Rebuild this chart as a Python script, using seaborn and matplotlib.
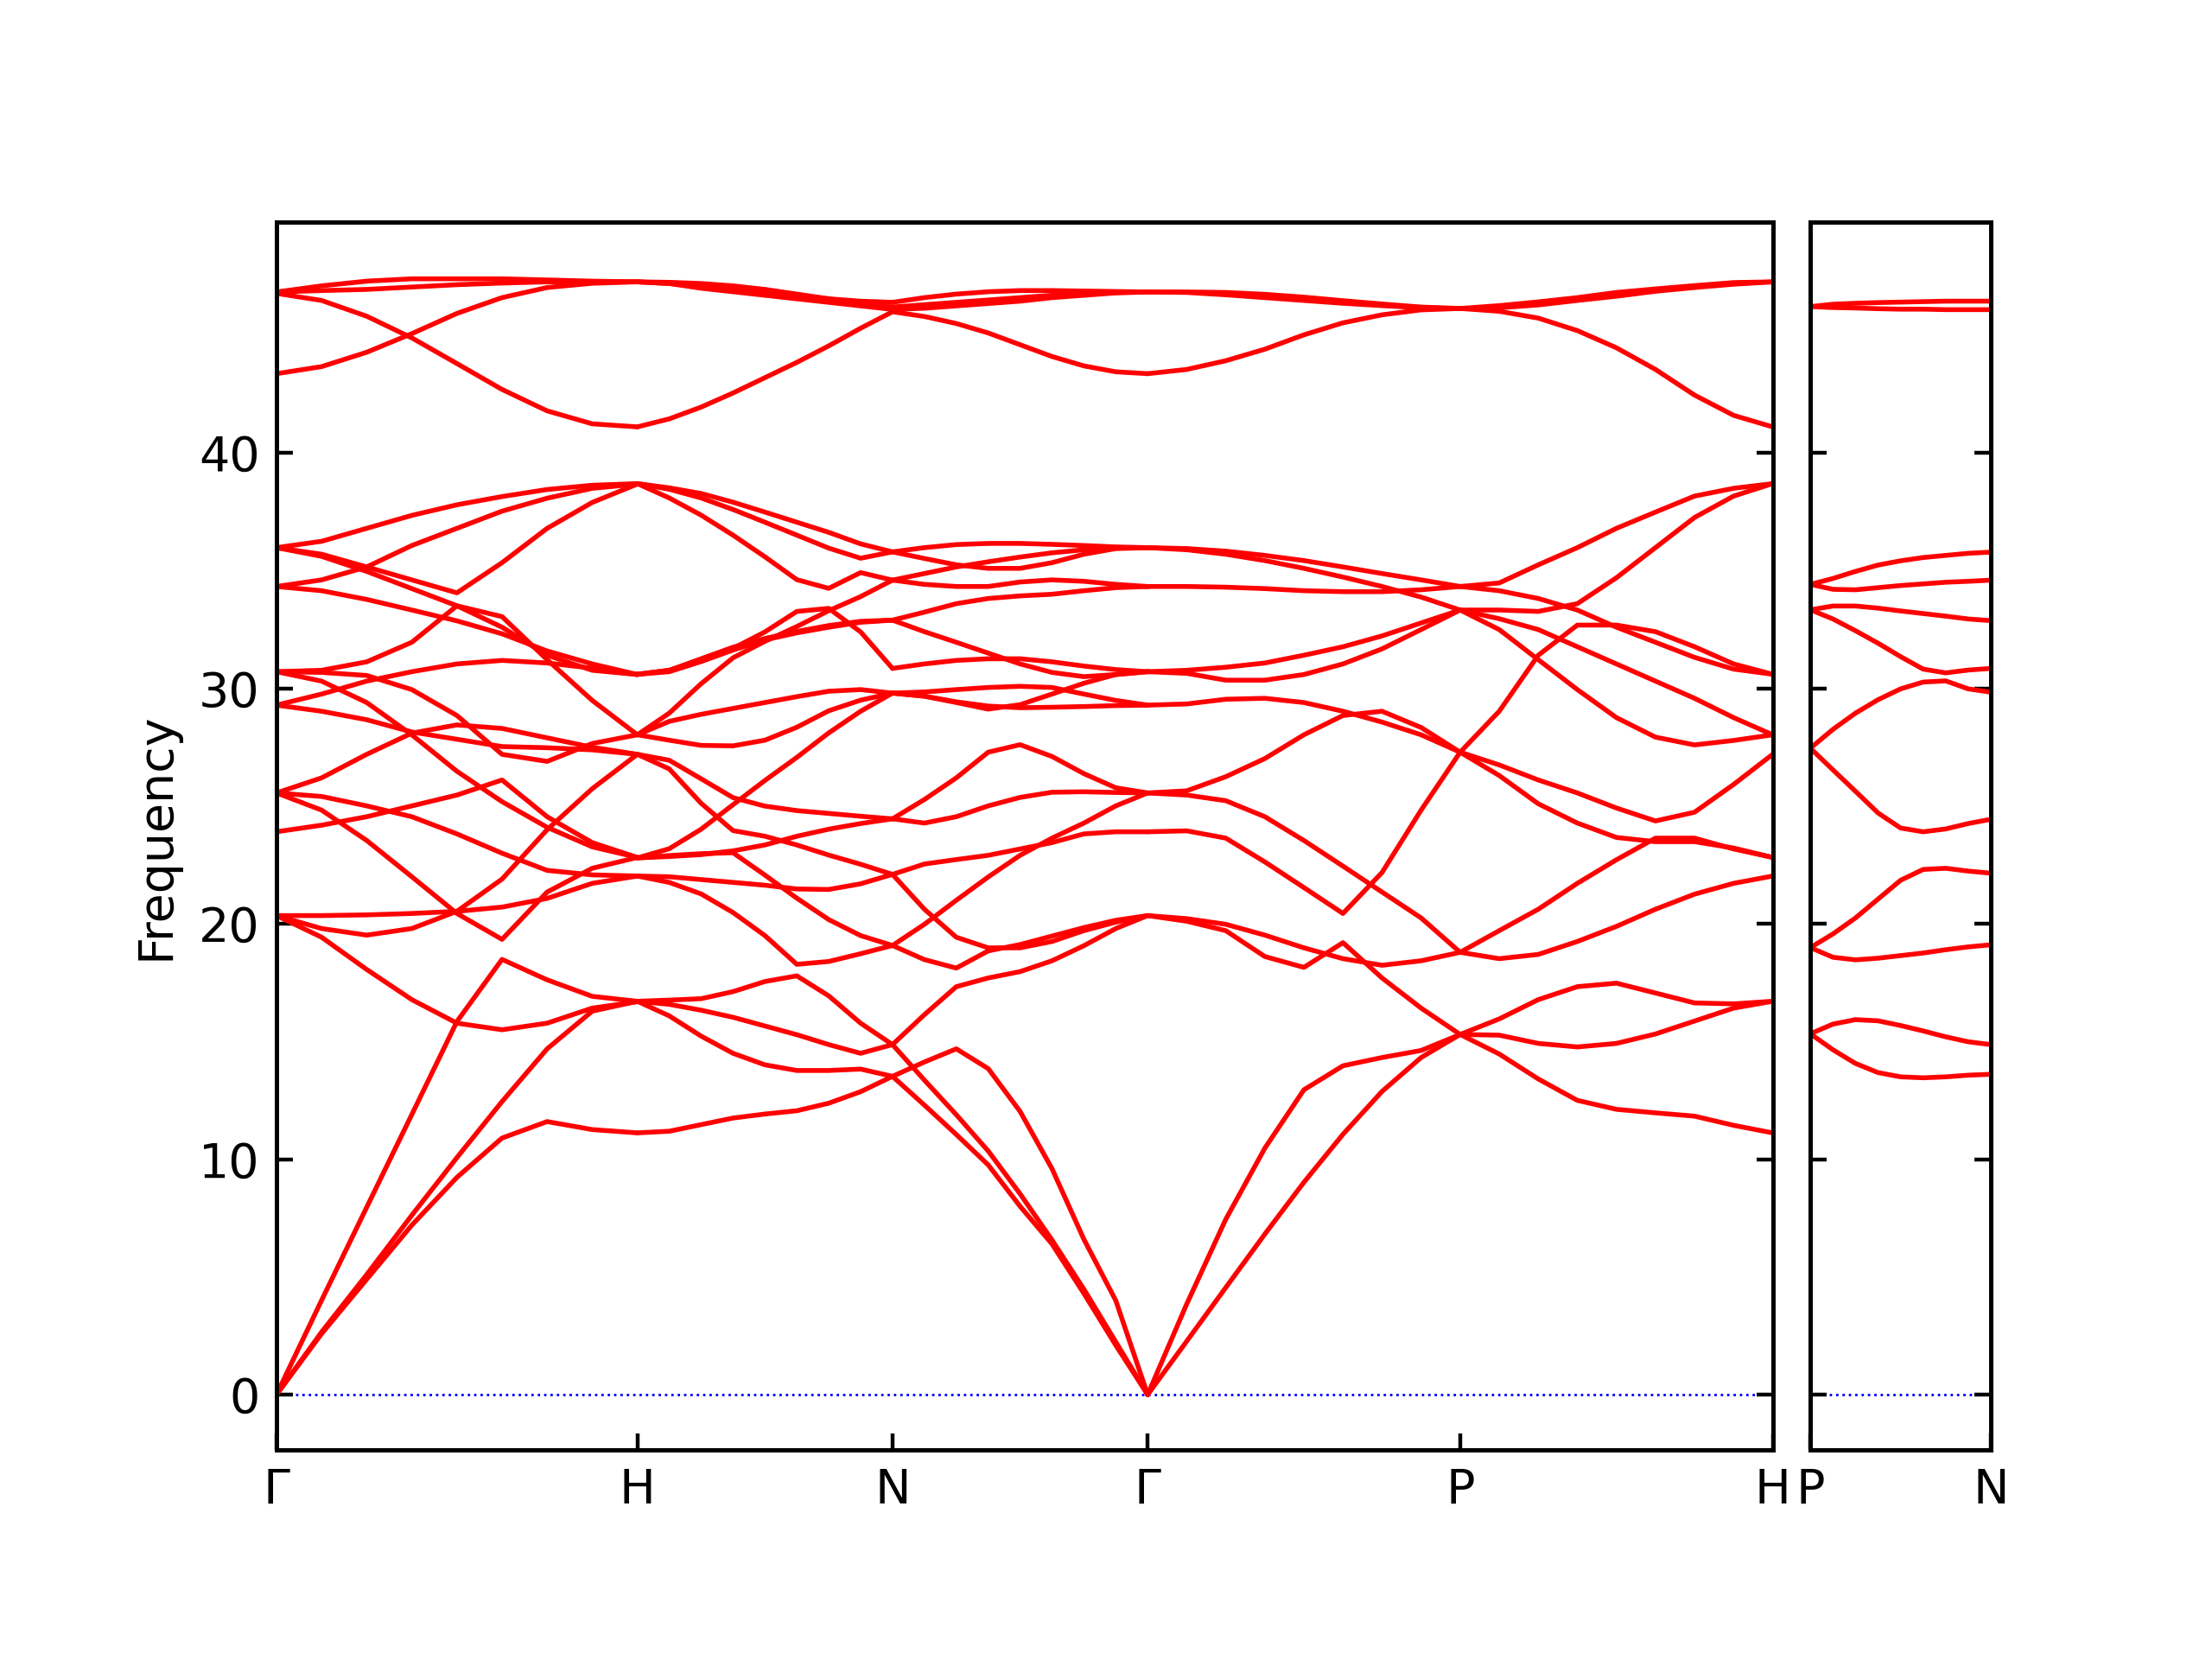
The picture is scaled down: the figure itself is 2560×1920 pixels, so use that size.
import numpy as np
import pandas as pd
import matplotlib
matplotlib.use("Agg")
import matplotlib.pyplot as plt
import seaborn as sns

# high symmetry path (bcc), segment lengths in 2pi/a
main_nodes = ["Γ", "H", "N", "Γ", "P", "H"]
seg_lengths = [1.0, 0.7071, 0.7071, 0.8660, 0.8660]
side_nodes = ["P", "N"]
side_length = 0.5

# fractional k position of the read-off samples along each segment
k_frac = [0.0, 0.125, 0.25, 0.375, 0.5, 0.625, 0.75, 0.875, 1.0]

# frequencies, one list per branch
gamma_h = [
    [46.84, 47.10, 47.30, 47.40, 47.40, 47.40, 47.35, 47.30, 47.27],
    [46.84, 46.90, 46.95, 47.05, 47.15, 47.22, 47.27, 47.27, 47.27],
    [46.78, 46.48, 45.81, 44.89, 43.80, 42.70, 41.79, 41.24, 41.11],
    [43.37, 43.67, 44.28, 45.07, 45.93, 46.60, 47.03, 47.21, 47.27],
    [35.98, 36.25, 36.80, 37.35, 37.80, 38.15, 38.45, 38.63, 38.70],
    [34.33, 34.61, 35.16, 36.07, 36.80, 37.53, 38.08, 38.50, 38.68],
    [35.98, 35.70, 35.16, 34.61, 34.06, 35.34, 36.80, 37.90, 38.68],
    [35.98, 35.61, 34.97, 34.24, 33.51, 32.60, 31.41, 30.77, 30.59],
    [34.33, 34.15, 33.78, 33.33, 32.87, 32.32, 31.59, 31.04, 30.59],
    [30.71, 30.77, 31.13, 31.96, 33.51, 33.05, 31.22, 29.49, 28.03],
    [30.71, 30.68, 30.55, 29.95, 28.85, 27.20, 26.90, 27.66, 28.03],
    [29.29, 29.76, 30.31, 30.71, 31.04, 31.19, 31.08, 30.86, 30.59],
    [29.29, 29.03, 28.67, 28.15, 27.84, 27.53, 27.48, 27.39, 27.20],
    [30.71, 30.31, 29.40, 28.03, 26.48, 25.19, 24.10, 23.27, 22.82],
    [25.56, 26.20, 27.20, 28.10, 28.45, 28.30, 27.90, 27.50, 27.20],
    [25.56, 25.41, 25.01, 24.55, 23.82, 23.00, 22.27, 22.08, 22.03],
    [25.56, 24.83, 23.54, 22.00, 20.44, 19.34, 21.35, 22.36, 22.82],
    [23.91, 24.19, 24.55, 25.01, 25.47, 26.11, 24.55, 23.45, 22.82],
    [20.35, 20.35, 20.38, 20.44, 20.53, 20.71, 21.08, 21.72, 22.03],
    [20.35, 19.80, 19.52, 19.80, 20.53, 21.90, 24.00, 25.74, 27.20],
    [20.35, 19.43, 18.06, 16.78, 15.78, 15.50, 15.78, 16.42, 16.69],
    [0.0, 4.01, 7.96, 11.90, 15.85, 18.49, 17.62, 16.92, 16.71],
    [0.0, 2.66, 5.10, 7.62, 10.07, 12.45, 14.69, 16.29, 16.71],
    [0.0, 2.59, 4.90, 7.20, 9.23, 10.90, 11.60, 11.26, 11.12],
]

h_n = [
    [47.27, 47.20, 47.10, 46.95, 46.85, 46.70, 46.55, 46.45, 46.40],
    [47.27, 47.25, 47.20, 47.10, 46.95, 46.75, 46.55, 46.35, 46.20],
    [47.27, 47.20, 47.00, 46.85, 46.70, 46.55, 46.40, 46.25, 46.10],
    [41.11, 41.45, 41.95, 42.55, 43.20, 43.85, 44.55, 45.30, 46.00],
    [38.70, 38.52, 38.28, 37.91, 37.49, 37.06, 36.63, 36.14, 35.80],
    [38.70, 38.46, 38.09, 37.60, 37.06, 36.51, 35.96, 35.53, 35.80],
    [38.70, 38.09, 37.36, 36.51, 35.59, 34.62, 34.25, 34.92, 34.60],
    [30.60, 30.77, 31.20, 31.70, 32.40, 33.27, 33.40, 32.40, 30.85],
    [28.03, 28.95, 30.20, 31.30, 32.00, 32.63, 33.30, 33.90, 34.60],
    [30.60, 30.77, 31.26, 31.75, 32.12, 32.42, 32.67, 32.85, 32.90],
    [30.60, 30.71, 31.14, 31.63, 32.06, 32.36, 32.60, 32.81, 32.90],
    [28.03, 28.60, 28.90, 29.15, 29.40, 29.65, 29.88, 29.95, 29.80],
    [28.03, 27.80, 27.58, 27.56, 27.80, 28.35, 29.05, 29.50, 29.80],
    [27.20, 26.95, 26.16, 25.36, 25.00, 24.81, 24.69, 24.57, 24.46],
    [27.20, 26.58, 25.12, 23.96, 23.72, 23.35, 22.92, 22.53, 22.10],
    [22.80, 23.19, 24.02, 25.06, 26.09, 27.07, 28.11, 29.03, 29.80],
    [22.80, 22.86, 22.94, 23.10, 23.35, 23.72, 24.02, 24.26, 24.46],
    [22.80, 22.90, 22.98, 23.02, 22.07, 21.09, 20.18, 19.50, 19.08],
    [22.03, 21.76, 21.27, 20.48, 19.50, 18.28, 18.40, 18.73, 19.08],
    [22.03, 22.00, 21.88, 21.76, 21.64, 21.48, 21.46, 21.70, 22.10],
    [16.71, 16.76, 16.82, 17.12, 17.55, 17.79, 16.94, 15.78, 14.87],
    [16.71, 16.58, 16.33, 16.03, 15.66, 15.29, 14.87, 14.50, 14.87],
    [16.71, 16.09, 15.23, 14.50, 14.01, 13.77, 13.77, 13.83, 13.52],
    [11.12, 11.19, 11.47, 11.75, 11.92, 12.06, 12.38, 12.87, 13.52],
]

n_gamma = [
    [46.40, 46.60, 46.75, 46.85, 46.90, 46.90, 46.88, 46.86, 46.84],
    [46.20, 46.30, 46.40, 46.50, 46.60, 46.70, 46.78, 46.82, 46.84],
    [46.10, 46.15, 46.25, 46.35, 46.45, 46.60, 46.70, 46.80, 46.84],
    [46.00, 45.80, 45.50, 45.10, 44.60, 44.10, 43.70, 43.45, 43.37],
    [35.80, 35.98, 36.11, 36.16, 36.16, 36.12, 36.07, 36.01, 35.98],
    [35.80, 35.52, 35.25, 35.10, 35.10, 35.34, 35.70, 35.94, 35.98],
    [34.60, 34.88, 35.16, 35.38, 35.58, 35.76, 35.89, 35.96, 35.98],
    [34.60, 34.42, 34.33, 34.33, 34.52, 34.61, 34.55, 34.42, 34.33],
    [32.90, 33.24, 33.60, 33.82, 33.93, 34.00, 34.15, 34.28, 34.33],
    [32.90, 32.41, 31.96, 31.50, 31.04, 30.68, 30.50, 30.59, 30.71],
    [30.85, 31.04, 31.19, 31.26, 31.26, 31.13, 30.95, 30.80, 30.71],
    [29.80, 29.67, 29.40, 29.12, 29.31, 29.76, 30.22, 30.59, 30.71],
    [29.80, 29.67, 29.43, 29.25, 29.18, 29.20, 29.23, 29.27, 29.29],
    [29.80, 29.85, 29.95, 30.04, 30.09, 30.04, 29.76, 29.49, 29.29],
    [24.46, 25.28, 26.20, 27.29, 27.61, 27.11, 26.38, 25.78, 25.56],
    [24.46, 24.28, 24.55, 25.01, 25.37, 25.59, 25.61, 25.58, 25.56],
    [22.10, 22.54, 22.73, 22.91, 23.18, 23.45, 23.82, 23.91, 23.91],
    [22.10, 20.62, 19.43, 18.98, 18.98, 19.25, 19.71, 20.07, 20.35],
    [19.08, 19.98, 21.00, 21.99, 22.91, 23.64, 24.28, 25.01, 25.56],
    [19.08, 18.48, 18.12, 18.85, 19.12, 19.48, 19.84, 20.15, 20.35],
    [14.87, 16.14, 17.33, 17.70, 17.97, 18.43, 19.07, 19.80, 20.35],
    [13.52, 14.13, 14.69, 13.85, 12.03, 9.60, 6.60, 4.00, 0.0],
    [14.87, 13.36, 11.89, 10.35, 8.53, 6.57, 4.48, 2.24, 0.0],
    [13.52, 12.30, 11.05, 9.76, 8.00, 6.40, 4.30, 2.10, 0.0],
]

gamma_p = [
    [46.84, 46.82, 46.72, 46.60, 46.48, 46.36, 46.26, 46.17, 46.14],
    [46.84, 46.84, 46.82, 46.74, 46.62, 46.47, 46.33, 46.20, 46.14],
    [43.37, 43.55, 43.92, 44.41, 45.02, 45.53, 45.87, 46.08, 46.14],
    [35.98, 35.94, 35.83, 35.65, 35.43, 35.16, 34.88, 34.61, 34.33],
    [35.98, 35.89, 35.70, 35.43, 35.10, 34.73, 34.33, 33.88, 33.33],
    [34.33, 34.33, 34.30, 34.24, 34.15, 34.11, 34.11, 34.19, 34.33],
    [30.71, 30.77, 30.90, 31.08, 31.41, 31.77, 32.23, 32.78, 33.33],
    [30.71, 30.64, 30.35, 30.35, 30.59, 31.04, 31.68, 32.50, 33.33],
    [29.29, 29.34, 29.54, 29.58, 29.40, 29.03, 28.57, 28.03, 27.29],
    [25.56, 25.65, 26.25, 27.02, 28.03, 28.85, 29.03, 28.34, 27.29],
    [25.56, 25.47, 25.23, 24.55, 23.54, 22.45, 21.35, 20.25, 18.79],
    [23.91, 23.95, 23.64, 22.63, 21.54, 20.44, 22.18, 24.83, 27.29],
    [20.35, 20.11, 19.71, 18.61, 18.15, 19.20, 17.70, 16.42, 15.30],
    [20.35, 20.22, 19.98, 19.52, 18.98, 18.52, 18.24, 18.43, 18.79],
    [0.0, 3.85, 7.45, 10.47, 12.95, 13.97, 14.32, 14.62, 15.30],
    [0.0, 2.27, 4.55, 6.82, 9.02, 11.06, 12.88, 14.32, 15.30],
]

p_h = [
    [46.14, 46.26, 46.42, 46.60, 46.82, 46.97, 47.11, 47.24, 47.27],
    [46.14, 46.17, 46.29, 46.48, 46.66, 46.87, 47.03, 47.17, 47.27],
    [46.14, 46.02, 45.73, 45.20, 44.47, 43.55, 42.46, 41.60, 41.11],
    [34.33, 34.48, 35.25, 35.98, 36.80, 37.49, 38.17, 38.50, 38.70],
    [33.33, 33.33, 33.27, 33.60, 34.70, 35.98, 37.26, 38.17, 38.70],
    [27.29, 29.03, 31.41, 32.69, 32.69, 32.41, 31.77, 31.04, 30.60],
    [34.33, 34.15, 33.82, 33.33, 32.60, 31.96, 31.32, 30.82, 30.60],
    [33.33, 32.50, 31.22, 29.95, 28.76, 27.93, 27.60, 27.79, 28.03],
    [33.33, 32.96, 32.50, 31.77, 31.04, 30.31, 29.58, 28.76, 28.03],
    [27.29, 26.30, 25.10, 24.28, 23.67, 23.49, 23.49, 23.22, 22.82],
    [27.29, 26.75, 26.11, 25.56, 24.92, 24.37, 24.74, 25.92, 27.20],
    [18.79, 19.71, 20.62, 21.72, 22.72, 23.64, 23.64, 23.18, 22.82],
    [18.79, 18.52, 18.70, 19.25, 19.89, 20.62, 21.26, 21.72, 22.03],
    [15.30, 15.96, 16.78, 17.33, 17.48, 17.06, 16.64, 16.60, 16.71],
    [15.30, 15.27, 14.92, 14.77, 14.92, 15.32, 15.87, 16.42, 16.71],
    [15.30, 14.47, 13.41, 12.50, 12.12, 11.97, 11.83, 11.44, 11.12],
]

p_n = [
    [46.22, 46.32, 46.36, 46.39, 46.41, 46.43, 46.45, 46.45, 46.45],
    [46.22, 46.18, 46.16, 46.13, 46.11, 46.11, 46.09, 46.09, 46.09],
    [34.42, 34.67, 34.97, 35.24, 35.42, 35.56, 35.65, 35.74, 35.79],
    [34.42, 34.21, 34.19, 34.28, 34.37, 34.44, 34.51, 34.55, 34.60],
    [33.34, 33.50, 33.50, 33.41, 33.29, 33.18, 33.07, 32.95, 32.88],
    [33.34, 32.95, 32.45, 31.92, 31.35, 30.82, 30.66, 30.78, 30.85],
    [27.46, 28.26, 28.95, 29.52, 29.98, 30.27, 30.32, 29.98, 29.84],
    [27.46, 26.54, 25.63, 24.71, 24.07, 23.91, 24.03, 24.26, 24.44],
    [18.99, 19.57, 20.25, 21.05, 21.85, 22.31, 22.36, 22.24, 22.15],
    [18.99, 18.58, 18.47, 18.54, 18.65, 18.76, 18.90, 19.02, 19.11],
    [15.33, 15.74, 15.93, 15.88, 15.68, 15.45, 15.20, 14.99, 14.87],
    [15.33, 14.65, 14.07, 13.68, 13.50, 13.46, 13.50, 13.57, 13.61],
]


def to_long(segments, lengths):
    rows = []
    start = 0.0
    for s, (curves, length) in enumerate(zip(segments, lengths)):
        for c, freqs in enumerate(curves):
            for f, fr in zip(k_frac, freqs):
                rows.append({"k": start + f * length, "freq": fr, "branch": f"{s}-{c}"})
        start += length
    return pd.DataFrame(rows)


df_main = to_long([gamma_h, h_n, n_gamma, gamma_p, p_h], seg_lengths)
df_side = to_long([p_n], [side_length])

node_pos = np.concatenate([[0.0], np.cumsum(seg_lengths)])

sns.set_style("ticks")
plt.rcParams["font.family"] = ["DejaVu Sans"]
plt.rcParams["font.size"] = 10
# seaborn greys the text, the original is plain black
for key in ["text.color", "axes.labelcolor", "xtick.color", "ytick.color", "axes.edgecolor"]:
    plt.rcParams[key] = "black"

fig = plt.figure(figsize=(6.4, 4.8), dpi=400)
gs = fig.add_gridspec(1, 2, width_ratios=[node_pos[-1], side_length], wspace=0.045,
                      left=0.125, right=0.9, bottom=0.126, top=0.866)
ax = fig.add_subplot(gs[0])
ax2 = fig.add_subplot(gs[1], sharey=ax)

for a, d in [(ax, df_main), (ax2, df_side)]:
    sns.lineplot(data=d, x="k", y="freq", units="branch", estimator=None, sort=False,
                 color="red", lw=1.0, legend=False, ax=a)
    a.axhline(0, color="blue", ls=":", lw=0.5, zorder=0)
    a.tick_params(axis="both", direction="in", right=True, top=False, labelsize=10,
                  color="black", labelcolor="black", width=0.8, length=3.5)
    for sp in a.spines.values():
        sp.set_color("black")
        sp.set_linewidth(0.9)
    a.set_xlabel("")
    a.set_ylabel("")

ax.set_xlim(0, node_pos[-1])
ax.set_xticks(node_pos)
ax.set_xticklabels(main_nodes)
ax.set_ylim(-2.35, 49.8)
ax.set_yticks([0, 10, 20, 30, 40])
ax.set_ylabel("Frequency", fontsize=10, color="black")

ax2.set_xlim(0, side_length)
ax2.set_xticks([0, side_length])
ax2.set_xticklabels(side_nodes)
plt.setp(ax2.get_yticklabels(), visible=False)

fig.savefig("out.png", dpi=400)
